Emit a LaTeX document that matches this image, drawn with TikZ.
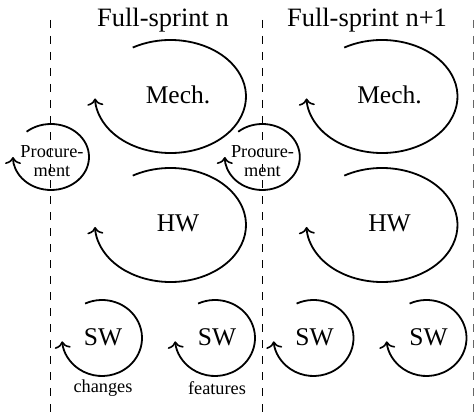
\documentclass[tikz,border=0pt]{standalone}
\usepackage{fontspec}
\setmainfont{Liberation Serif}
\usetikzlibrary{arrows.meta}
\tikzset{
  cyc/.style={line width=1.8pt,-{Computer Modern Rightarrow[length=7pt,width=16pt,line width=1.6pt]}},
  sep/.style={line width=1pt,dash pattern=on 8pt off 8pt},
  big/.style={font=\fontsize{25.5}{28}\selectfont,inner sep=0pt},
  ttl/.style={font=\fontsize{26.5}{30}\selectfont,inner sep=0pt,anchor=base},
  sml/.style={font=\fontsize{18.3}{19}\selectfont,inner sep=0pt,align=center},
}
\begin{document}
\begin{tikzpicture}[x=1pt,y=1pt]
\useasboundingbox (0,0) rectangle (474,416);
% separators
\coordinate (s1t) at (50.5,396); \coordinate (s1b) at (50.5,4);
\coordinate (s2t) at (262.3,396); \coordinate (s2b) at (262.3,4);
\coordinate (s3t) at (473.5,396); \coordinate (s3b) at (473.5,4);
\draw[sep] (s1t) -- (s1b);
\draw[sep] (s2t) -- (s2b);
\draw[sep,black!60] (s3t) -- (s3b);
% titles
\node[ttl] (t1) at (163,389) {Full-sprint n};
\node[ttl] (t2) at (367,389) {Full-sprint n+1};
% procurement cycles
\draw[cyc] (51,259) ++(130:38 and 33) arc[start angle=130,end angle=-180,x radius=38,y radius=33];
\draw[cyc] (262.3,259) ++(130:37.5 and 33) arc[start angle=130,end angle=-180,x radius=37.5,y radius=33];
\node[sml] (p1) at (52,255) {Procure-\\ment};
\node[sml] (p2) at (262.5,255) {Procure-\\ment};
% sprint cycles
\foreach \dx/\i in {0/1,211.5/2}{
  \begin{scope}[xshift=\dx]
    \draw[cyc] (170.5,319.5) ++(120:75.5 and 56.5) arc[start angle=120,end angle=-178,x radius=75.5,y radius=56.5];
    \node[big] (mech\i) at (178,321) {Mech.};
    \draw[cyc] (170.5,191) ++(120:75.5 and 57) arc[start angle=120,end angle=-178,x radius=75.5,y radius=57];
    \node[big] (hw\i) at (178,193) {HW};
    \draw[cyc] (102,78) ++(115:40 and 38) arc[start angle=115,end angle=-175,x radius=40,y radius=38];
    \node[big] (swa\i) at (103,79) {SW};
    \draw[cyc] (215,78) ++(115:40 and 38) arc[start angle=115,end angle=-175,x radius=40,y radius=38];
    \node[big] (swb\i) at (217,79) {SW};
  \end{scope}
}
\node[sml] (chg) at (103,28) {changes};
\node[sml] (fea) at (217,28) {features};
\end{tikzpicture}
\end{document}
